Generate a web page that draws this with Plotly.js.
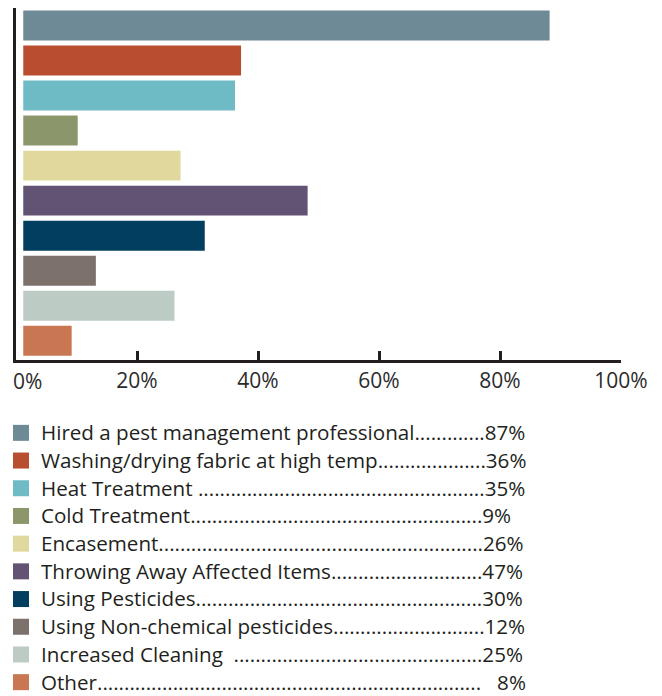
<!DOCTYPE html>
<html>
<head>
<meta charset="utf-8">
<script src="https://cdn.plot.ly/plotly-3.0.1.min.js"></script>
<style>html,body{margin:0;padding:0;background:#fff;}#chart{width:662px;height:696px;}</style>
</head>
<body>
<div id="chart"></div>
<script>
// ---- data ----
const categories = [
  "Hired a pest management professional",
  "Washing/drying fabric at high temp",
  "Heat Treatment ",
  "Cold Treatment",
  "Encasement",
  "Throwing Away Affected Items",
  "Using Pesticides",
  "Using Non-chemical pesticides",
  "Increased Cleaning  ",
  "Other"
];
const values = [87, 36, 35, 9, 26, 47, 30, 12, 25, 8];
const valueLabels = ["87%", "36%", "35%", "9%", "26%", "47%", "30%", "12%", "25%", "   8%"];
const colors = ["#6e8a96", "#b84e2f", "#6fbbc5", "#8b976b", "#e0d89c",
                "#625273", "#023e5f", "#7d716b", "#bccbc3", "#c97652"];
const tickVals = [0, 20, 40, 60, 80, 100];
const tickText = ["0%", "20%", "40%", "60%", "80%", "100%"];

// ---- legend text with dot leaders ----
const LEG_FONT = "Open Sans";
const LEG_SIZE = 19;       // controls row pitch
const LEG_TEXT_SIZE = 20.6; // visible text size
const ctx = document.createElement("canvas").getContext("2d");
ctx.font = LEG_TEXT_SIZE + "px '" + LEG_FONT + "'";
const dotsTarget = 445;
function nb(s){ return s.replace(/ /g, "\u00a0"); }
const legendNames = categories.map((c, i) => {
  let s = c;
  while (ctx.measureText(s + ".").width <= dotsTarget) s += ".";
  return '<span style="font-size:' + LEG_TEXT_SIZE + 'px">' + nb(s + valueLabels[i]) + '</span>';
});

const yKeys = categories.map(c => c.trim());

const traces = [{
  type: "bar",
  orientation: "h",
  y: yKeys,
  x: values,
  base: 1.2,
  width: 0.855,
  marker: {color: colors, line: {width: 0}},
  showlegend: false,
  hoverinfo: "skip"
}];
categories.forEach((c, i) => {
  traces.push({
    type: "scatter",
    mode: "markers",
    x: [null], y: [null],
    name: legendNames[i],
    marker: {symbol: "square", size: 16, color: colors[i]},
    showlegend: true,
    hoverinfo: "skip"
  });
});

// the first tick label sits to the right of the axis corner, as in the original:
// it is drawn as an annotation anchored at the first tick value
const tickTextShown = tickText.map((t, i) => i === 0 ? "" : t);
const TICK_FONT = {family: "Open Sans", size: 21, color: "#2b2b2b"};

// plot area in pixels: x 16..621, y 8..360
const PL = 16, PW = 605, PT = 8, PH = 352;
const layout = {
  width: 662, height: 696,
  margin: {l: PL, r: 662 - PL - PW, t: PT, b: 696 - PT - PH, autoexpand: false},
  paper_bgcolor: "#ffffff",
  plot_bgcolor: "#ffffff",
  bargap: 0.15,
  xaxis: {
    range: [0, 100],
    tickvals: tickVals,
    ticktext: tickTextShown,
    ticks: "inside",
    ticklen: 9,
    tickwidth: 3,
    tickcolor: "#231f20",
    showline: true,
    linewidth: 3,
    linecolor: "#231f20",
    showgrid: false,
    zeroline: false,
    automargin: false,
    tickangle: 0,
    tickfont: TICK_FONT,
    fixedrange: true
  },
  yaxis: {
    type: "category",
    categoryorder: "array",
    categoryarray: yKeys,
    range: [9.55, -0.5],
    showticklabels: false,
    ticks: "",
    showline: true,
    linewidth: 3,
    linecolor: "#231f20",
    showgrid: false,
    zeroline: false,
    automargin: false,
    fixedrange: true
  },
  annotations: [{
    xref: "x", yref: "paper",
    x: tickVals[0], y: 0,
    text: tickText[0],
    showarrow: false,
    xanchor: "left", yanchor: "middle",
    xshift: -5, yshift: -21,
    font: TICK_FONT
  }],
  showlegend: true,
  legend: {
    orientation: "v",
    xref: "paper", yref: "paper",
    x: (1 - PL) / PW, y: (PT + PH - 414) / PH,
    xanchor: "left", yanchor: "top",
    bgcolor: "rgba(0,0,0,0)",
    font: {family: LEG_FONT, size: LEG_SIZE, color: "#231f20"},
    itemsizing: "trace",
    traceorder: "normal",
    itemclick: false, itemdoubleclick: false
  }
};

Plotly.newPlot("chart", traces, layout, {displayModeBar: false, staticPlot: true});
</script>
</body>
</html>
